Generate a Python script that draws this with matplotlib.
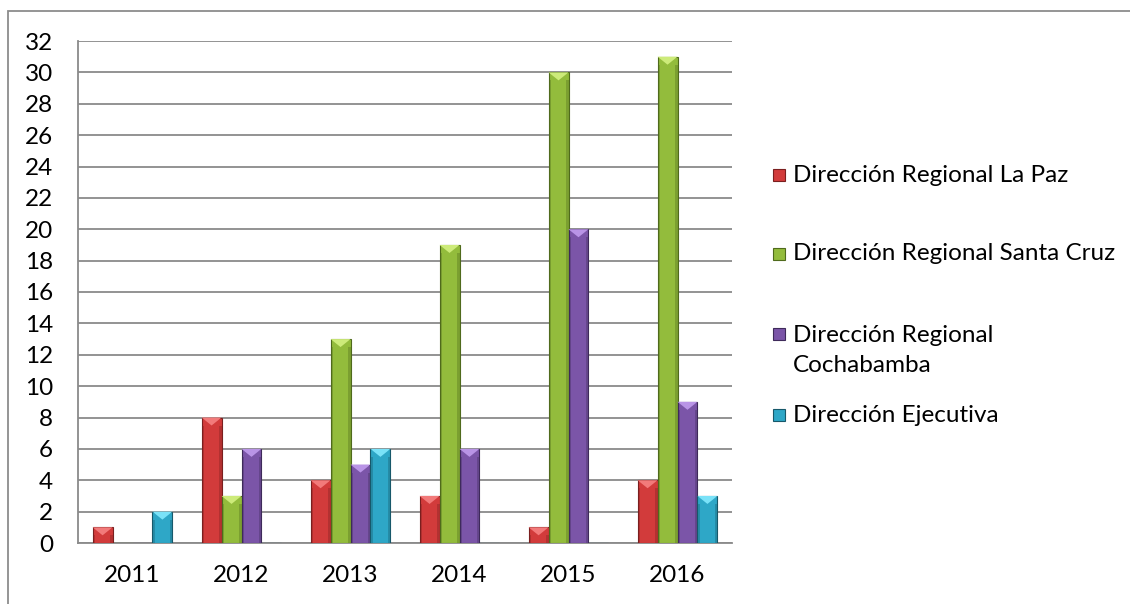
import numpy as np
import matplotlib
matplotlib.use("Agg")
import matplotlib.pyplot as plt
from matplotlib.patches import Polygon, Rectangle

years = ["2011", "2012", "2013", "2014", "2015", "2016"]
series_names = ["Dirección Regional La Paz",
                "Dirección Regional Santa Cruz",
                "Dirección Regional\nCochabamba",
                "Dirección Ejecutiva"]
la_paz = [1, 8, 4, 3, 1, 4]
santa_cruz = [0, 3, 13, 19, 30, 31]
cochabamba = [0, 6, 5, 6, 20, 9]
ejecutiva = [2, 0, 6, 0, 0, 3]

face = ["#D23B3B", "#93BC3C", "#7B55A8", "#2EA7C7"]
light = ["#F27A7A", "#CDEB7A", "#B994E6", "#7AE2F8"]
edge = ["#7A1F1F", "#4F6A1C", "#3E2A5A", "#17586A"]

plt.rcParams['font.family'] = ['Lato', 'DejaVu Sans']
fs = 17.5

fig = plt.figure(figsize=(11.3, 6.04), dpi=100)
# outer chart frame
fig.patches.append(Rectangle((8 / 1130, -0.1), 1.2, 1.1 - 11 / 604,
                             transform=fig.transFigure, fill=False,
                             edgecolor="#8c8c8c", linewidth=1.3))

ax = fig.add_axes([78 / 1130, 61 / 604, 654 / 1130, 502 / 604])
x = np.arange(len(years))
w = 0.183
data = [la_paz, santa_cruz, cochabamba, ejecutiva]

ax.set_xlim(-0.5, 5.5)
ax.set_ylim(0, 32)
ax.set_yticks(range(0, 33, 2))
ax.set_xticks(x)
ax.set_xticklabels(years)
ax.yaxis.grid(True, color="#8a8a8a", linewidth=1.3)
ax.set_axisbelow(True)
for s in ["top", "right"]:
    ax.spines[s].set_visible(False)
for s in ["left", "bottom"]:
    ax.spines[s].set_color("#8a8a8a")
    ax.spines[s].set_linewidth(1.3)
ax.tick_params(length=0, labelsize=fs, colors="black")
ax.tick_params(axis="y", pad=18)
ax.tick_params(axis="x", pad=16)

fig.canvas.draw()
# depth of the bevel triangle, in data units (about 8 px)
dy = 8 / (ax.transData.transform((0, 1))[1] - ax.transData.transform((0, 0))[1])

for i, vals in enumerate(data):
    bars = ax.bar(x + (i - 1.5) * w, vals, w, color=face[i], edgecolor=edge[i],
                  linewidth=0.8, zorder=3)
    for b in bars:
        h = b.get_height()
        if h <= 0:
            continue
        bx = b.get_x()
        bw = b.get_width()
        d = min(dy, h)
        tri = Polygon([(bx, h), (bx + bw, h), (bx + bw / 2, h - d)],
                      closed=True, facecolor=light[i], edgecolor="none", zorder=4)
        ax.add_patch(tri)
        # darker side strips for a bevelled look
        ax.add_patch(Rectangle((bx, 0), bw * 0.12, h - d, facecolor=edge[i],
                               alpha=0.35, edgecolor="none", zorder=4))
        ax.add_patch(Rectangle((bx + bw * 0.88, 0), bw * 0.12, h - d,
                               facecolor=edge[i], alpha=0.35, edgecolor="none", zorder=4))

# legend, drawn by hand so the square sits on the first line of a two-line label
leg_y = [175, 254, 334, 415]
text_y = [175, 254, 350.5, 415]
for i, name in enumerate(series_names):
    yy = 1 - leg_y[i] / 604
    fig.patches.append(Rectangle((773 / 1130, yy - 6 / 604), 12 / 1130, 12 / 604,
                                 transform=fig.transFigure, facecolor=face[i],
                                 edgecolor=edge[i], linewidth=0.8))
    fig.text(793 / 1130, 1 - text_y[i] / 604, name, fontsize=fs, va="center",
             ha="left", linespacing=1.55)

fig.savefig("out.png", dpi=100)
